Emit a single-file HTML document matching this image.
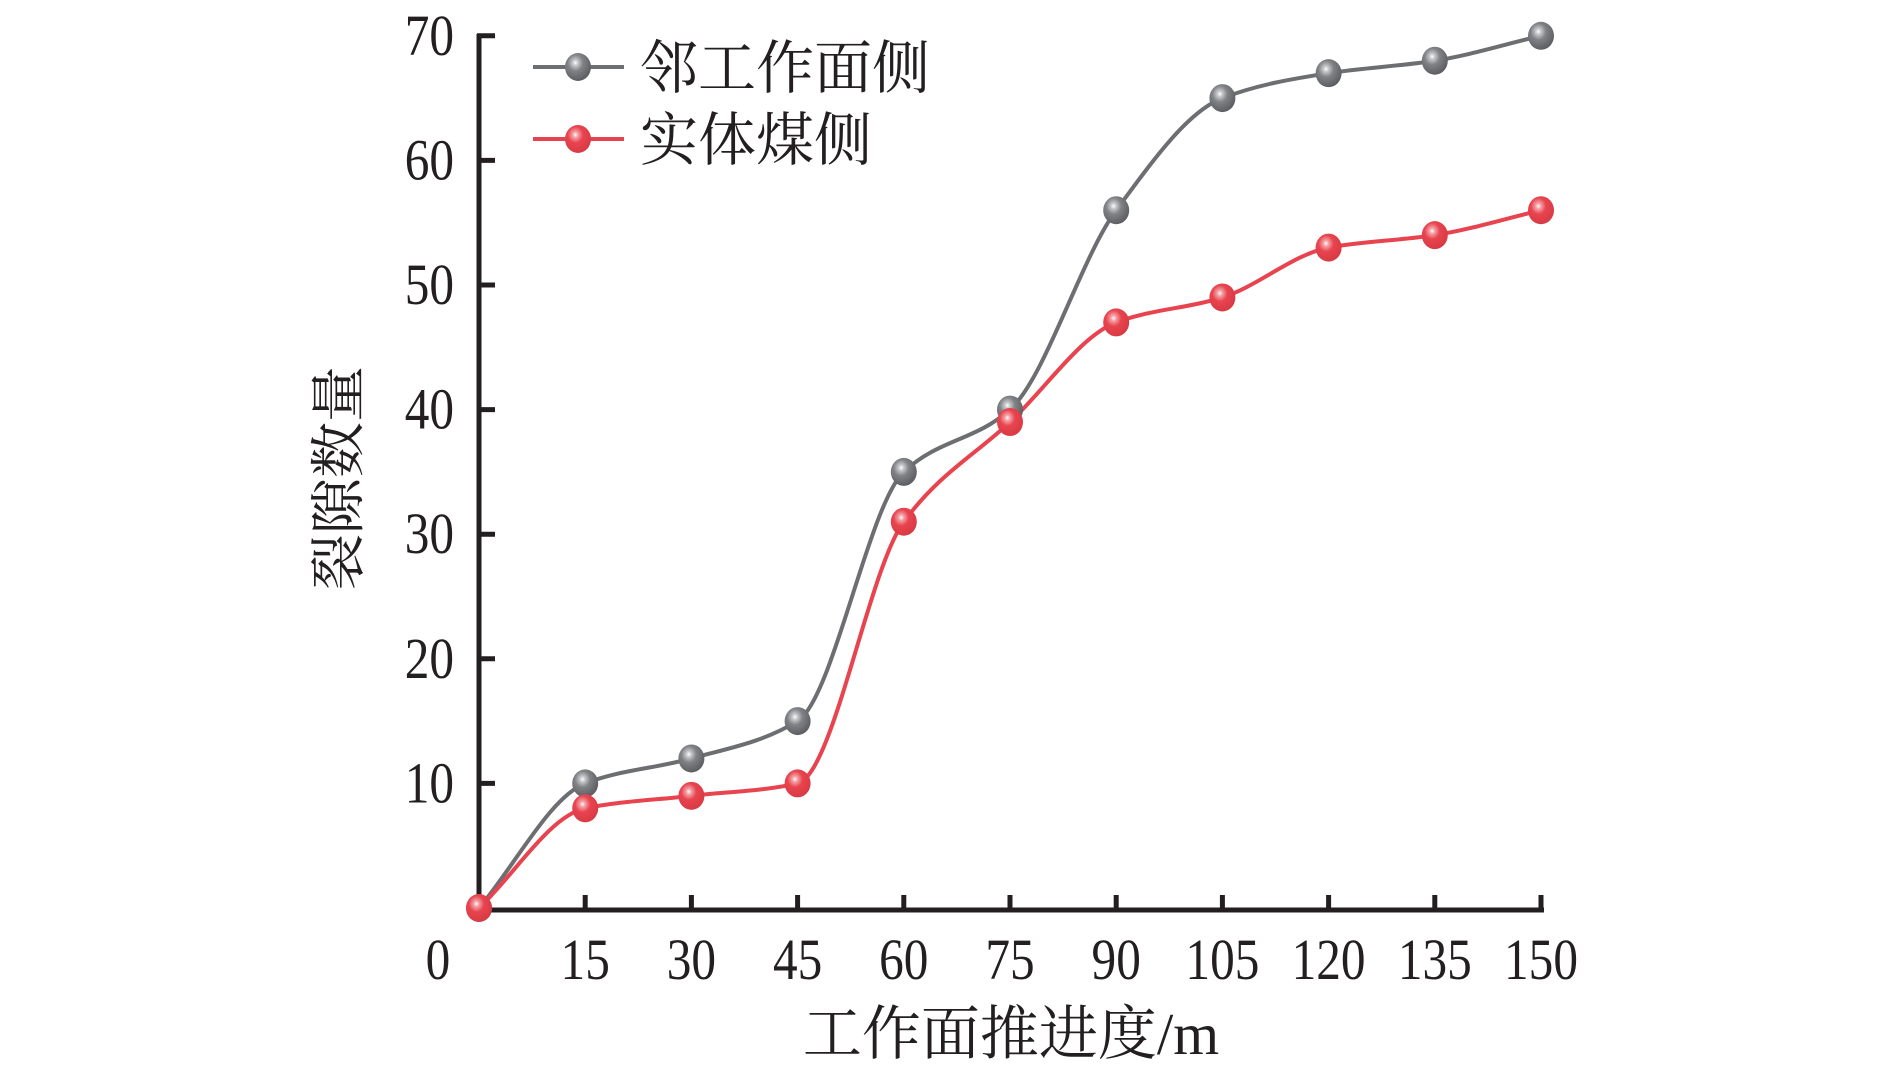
<!DOCTYPE html>
<html><head><meta charset="utf-8"><style>
html,body{margin:0;padding:0;background:#fff;}
svg{display:block;}
text{font-family:"Liberation Serif","Noto Serif CJK SC",serif;fill:#231f20;}
</style></head><body>
<svg id="s" width="1890" height="1071" viewBox="0 0 1890 1071" xmlns="http://www.w3.org/2000/svg">
<defs>
<radialGradient id="gg" cx="0.4" cy="0.35" r="0.65">
<stop offset="0" stop-color="#ffffff"/><stop offset="0.15" stop-color="#c8c9cb"/><stop offset="0.45" stop-color="#808285"/><stop offset="1" stop-color="#5c5e61"/>
</radialGradient>
<radialGradient id="gr" cx="0.4" cy="0.35" r="0.65">
<stop offset="0" stop-color="#ffffff"/><stop offset="0.15" stop-color="#f4a3a8"/><stop offset="0.45" stop-color="#e8444f"/><stop offset="1" stop-color="#d83a44"/>
</radialGradient>
</defs>
<g id="axes" stroke="#231f20" stroke-width="5" fill="none">
<path d="M479 34 L479 910 L1544 910"/>
</g>
<g id="ticks" stroke="#231f20" stroke-width="5"></g>
<g id="lbl"></g>
<g id="series"></g>
<g>
<line x1="533" y1="67" x2="624" y2="67" stroke="#6d6e71" stroke-width="4"/>
<ellipse cx="578" cy="67" rx="13" ry="14" fill="url(#gg)"/>
<text x="640" y="88" font-size="58">邻工作面侧</text>
<line x1="533" y1="139" x2="624" y2="139" stroke="#e8444f" stroke-width="4"/>
<ellipse cx="578" cy="139" rx="13" ry="14" fill="url(#gr)"/>
<text x="640" y="160" font-size="58">实体煤侧</text>
</g>
<text x="1011" y="1054" font-size="59" text-anchor="middle">工作面推进度/m</text>
<text transform="translate(358,478) rotate(-90)" font-size="56" text-anchor="middle">裂隙数量</text>
</svg>
<script>
const NS="http://www.w3.org/2000/svg";
const X0=479,Y0=908,DX=106.2,DY=124.6;
const px=i=>X0+i*DX, py=v=>Y0-v/10*DY;
function el(t,a,p,txt){const e=document.createElementNS(NS,t);for(const k in a)e.setAttribute(k,a[k]);if(txt!==undefined)e.textContent=txt;p.appendChild(e);return e;}
const T=document.getElementById('ticks'),L=document.getElementById('lbl'),S=document.getElementById('series');
function num(x,y,s,anchor){el('text',{transform:`translate(${x},${y}) scale(0.85,1)`,'font-size':58,'text-anchor':anchor},L,s);}
for(let i=1;i<=10;i++){el('line',{x1:px(i),y1:910,x2:px(i),y2:895},T);num(px(i),979,String(i*15),'middle');}
num(438,979,'0','middle');
for(let v=10;v<=70;v+=10){el('line',{x1:477,y1:py(v),x2:495,y2:py(v)},T);num(454,py(v)+19,String(v),'end');}
const g=[0,10,12,15,35,40,56,65,67,68,70], r=[0,8,9,10,31,39,47,49,53,54,56];
function path(d){const n=d.length,p=d.map((v,i)=>[px(i),py(v)]);
const del=[];for(let i=0;i<n-1;i++)del.push((p[i+1][1]-p[i][1])/DX);
const m=[];m[0]=del[0];m[n-1]=del[n-2];
for(let i=1;i<n-1;i++){if(del[i-1]*del[i]<=0)m[i]=0;else m[i]=2/(1/del[i-1]+1/del[i]);}
let s=`M${p[0][0]} ${p[0][1]}`;
for(let i=0;i<n-1;i++){const h=DX/3;s+=` C${p[i][0]+h} ${p[i][1]+m[i]*h} ${p[i+1][0]-h} ${p[i+1][1]-m[i+1]*h} ${p[i+1][0]} ${p[i+1][1]}`;}
return s;}
el('path',{d:path(g),stroke:'#6d6e71','stroke-width':4,fill:'none'},S);
el('path',{d:path(r),stroke:'#e8444f','stroke-width':4,fill:'none'},S);
g.forEach((v,i)=>el('ellipse',{cx:px(i),cy:py(v),rx:13,ry:14,fill:'url(#gg)'},S));
r.forEach((v,i)=>el('ellipse',{cx:px(i),cy:py(v),rx:13,ry:14,fill:'url(#gr)'},S));
</script>
</body></html>
